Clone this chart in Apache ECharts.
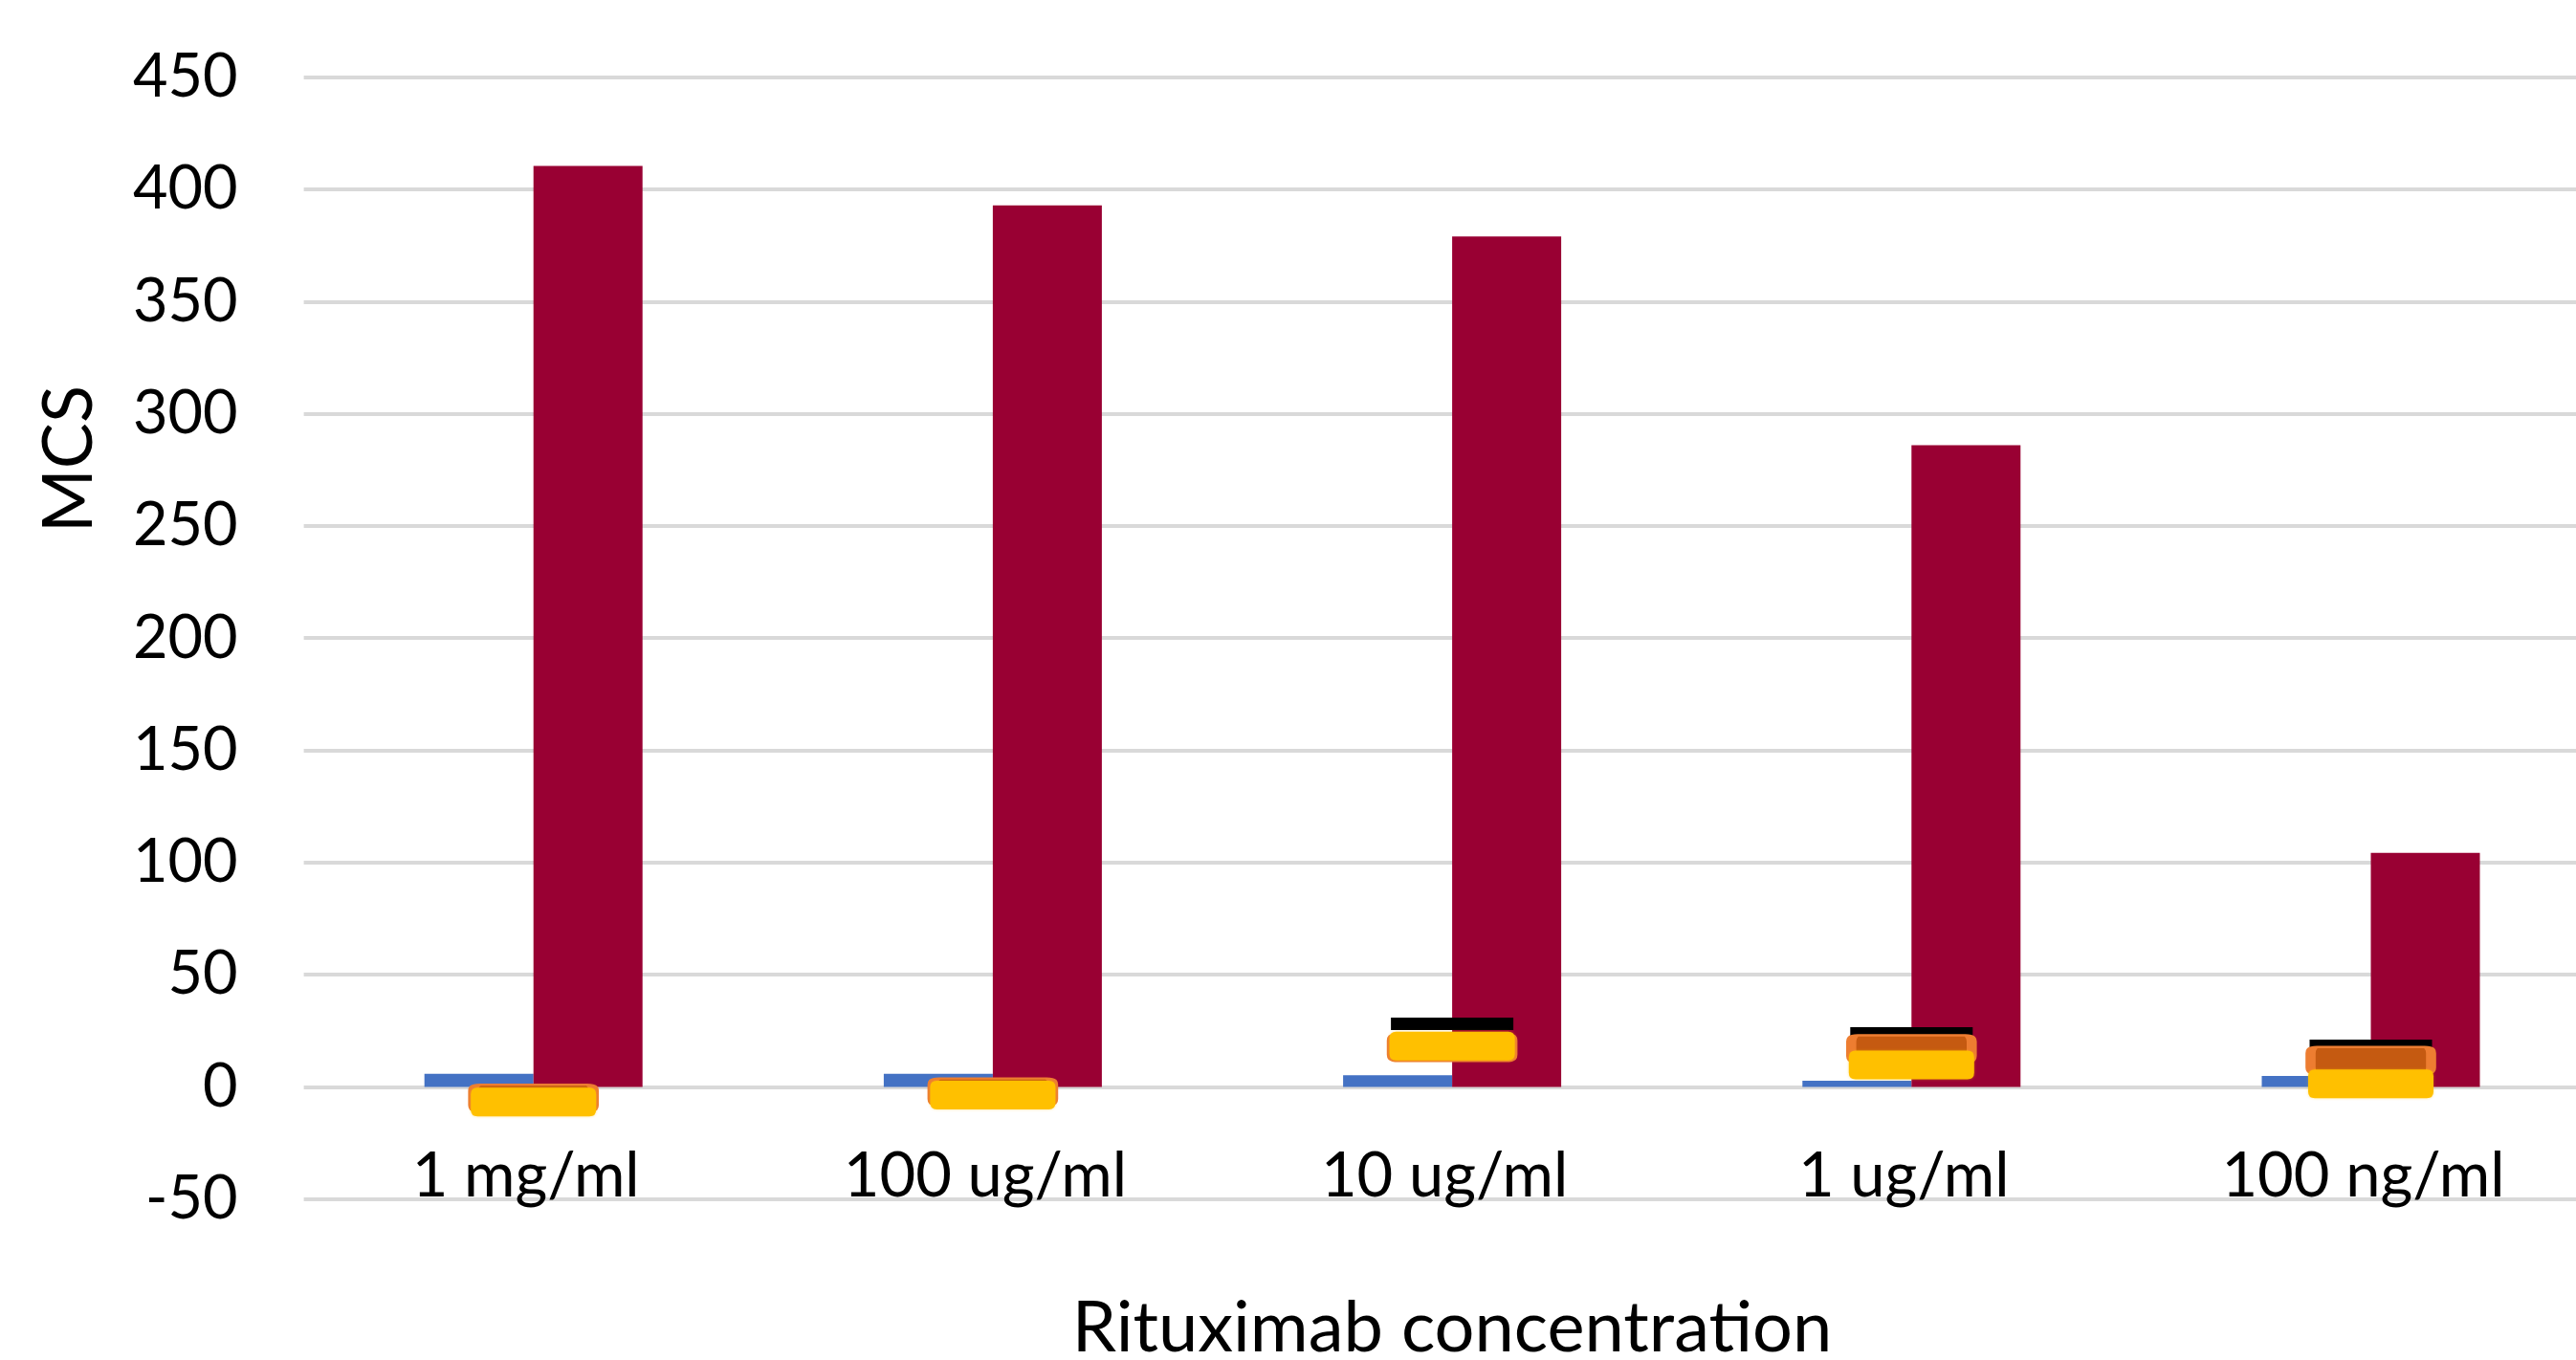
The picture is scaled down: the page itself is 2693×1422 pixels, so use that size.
<!DOCTYPE html>
<html>
<head>
<meta charset="utf-8">
<title>MCS vs Rituximab concentration</title>
<script src="https://cdn.jsdelivr.net/npm/echarts@6/dist/echarts.min.js"></script>
<style>
  html, body { margin: 0; padding: 0; background: #ffffff; }
  #chart { width: 2693px; height: 1422px; }
</style>
</head>
<body>
<div id="chart"></div>
<script>
// Rituximab concentrations (x categories)
const categories = ['1 mg/ml', '100 ug/ml', '10 ug/ml', '1 ug/ml', '100 ng/ml'];

// Column series
const blueValues = [5.8, 5.8, 5.2, 2.7, 4.9];
const redValues = [410.4, 392.9, 379.0, 286.0, 104.3];

// Dash-marker series (no connecting line)
const blackValues = [-4.0, -1.5, 28.1, 23.8, 18.3];
const orangeValues = [-5.0, -2.2, 17.5, 17.0, 11.8];
const yellowValues = [-6.8, -3.7, 18.2, 9.8, 1.3];

// Value axis range
const yMin = -50;
const yMax = 450;
const yStep = 50;

const FONT = 'Lato, "Open Sans", sans-serif';
// Wide dash marker with softly rounded corners
const DASH_PATH = 'path://M7,0 H124 Q131,0 131,7 V23 Q131,30 124,30 H7 Q0,30 0,23 V7 Q0,0 7,0 Z';

const chart = echarts.init(document.getElementById('chart'), null, { renderer: 'canvas' });

function dashSeries(name, values, opts) {
  return {
    name: name,
    type: 'scatter',
    data: values,
    symbol: opts.symbol,
    symbolSize: opts.size,
    itemStyle: Object.assign({ opacity: 1 }, opts.style),
    silent: true,
    z: opts.z
  };
}

chart.setOption({
  animation: false,
  backgroundColor: '#ffffff',
  grid: {
    left: 317.6, top: 80.7, width: 2401, height: 1173,
    containLabel: false, outerBoundsMode: 'none'
  },
  xAxis: {
    type: 'category',
    data: categories,
    axisLine: { show: false, onZero: false },
    axisTick: { show: false },
    axisLabel: {
      color: '#000000', fontFamily: FONT, fontSize: 65, margin: -56,
      padding: [0, 16, 0, 0]
    },
    name: 'Rituximab concentration',
    nameLocation: 'middle',
    nameGap: 98,
    nameTextStyle: { color: '#000000', fontFamily: FONT, fontSize: 74 }
  },
  yAxis: {
    type: 'value',
    min: yMin,
    max: yMax,
    interval: yStep,
    axisLine: { show: false },
    axisTick: { show: false },
    splitLine: { show: true, lineStyle: { color: '#D9D9D9', width: 4 } },
    axisLabel: { color: '#000000', fontFamily: FONT, fontSize: 63, margin: 69 }
  },
  graphic: [{
    type: 'text',
    x: 73,
    y: 480,
    rotation: Math.PI / 2,
    style: {
      text: 'MCS',
      fill: '#000000',
      font: '72px ' + FONT,
      textAlign: 'center',
      textVerticalAlign: 'middle'
    }
  }],
  series: [
    {
      name: 'blue',
      type: 'bar',
      data: blueValues,
      barWidth: 114,
      barGap: '0%',
      itemStyle: { color: '#4472C4' },
      z: 2
    },
    {
      name: 'red',
      type: 'bar',
      data: redValues,
      barWidth: 114,
      barGap: '0%',
      itemStyle: { color: '#990033' },
      z: 2
    },
    dashSeries('black', blackValues, {
      symbol: 'rect', size: [128, 13], z: 3,
      style: { color: '#000000' }
    }),
    dashSeries('orange', orangeValues, {
      symbol: DASH_PATH, size: [126, 28], z: 4,
      style: { color: '#C55A11', borderColor: '#ED7D31', borderWidth: 5 }
    }),
    dashSeries('yellow', yellowValues, {
      symbol: DASH_PATH, size: [131, 30], z: 5,
      style: { color: '#FFC000', shadowBlur: 3, shadowColor: 'rgba(255,192,0,0.45)' }
    })
  ]
});
</script>
</body>
</html>
